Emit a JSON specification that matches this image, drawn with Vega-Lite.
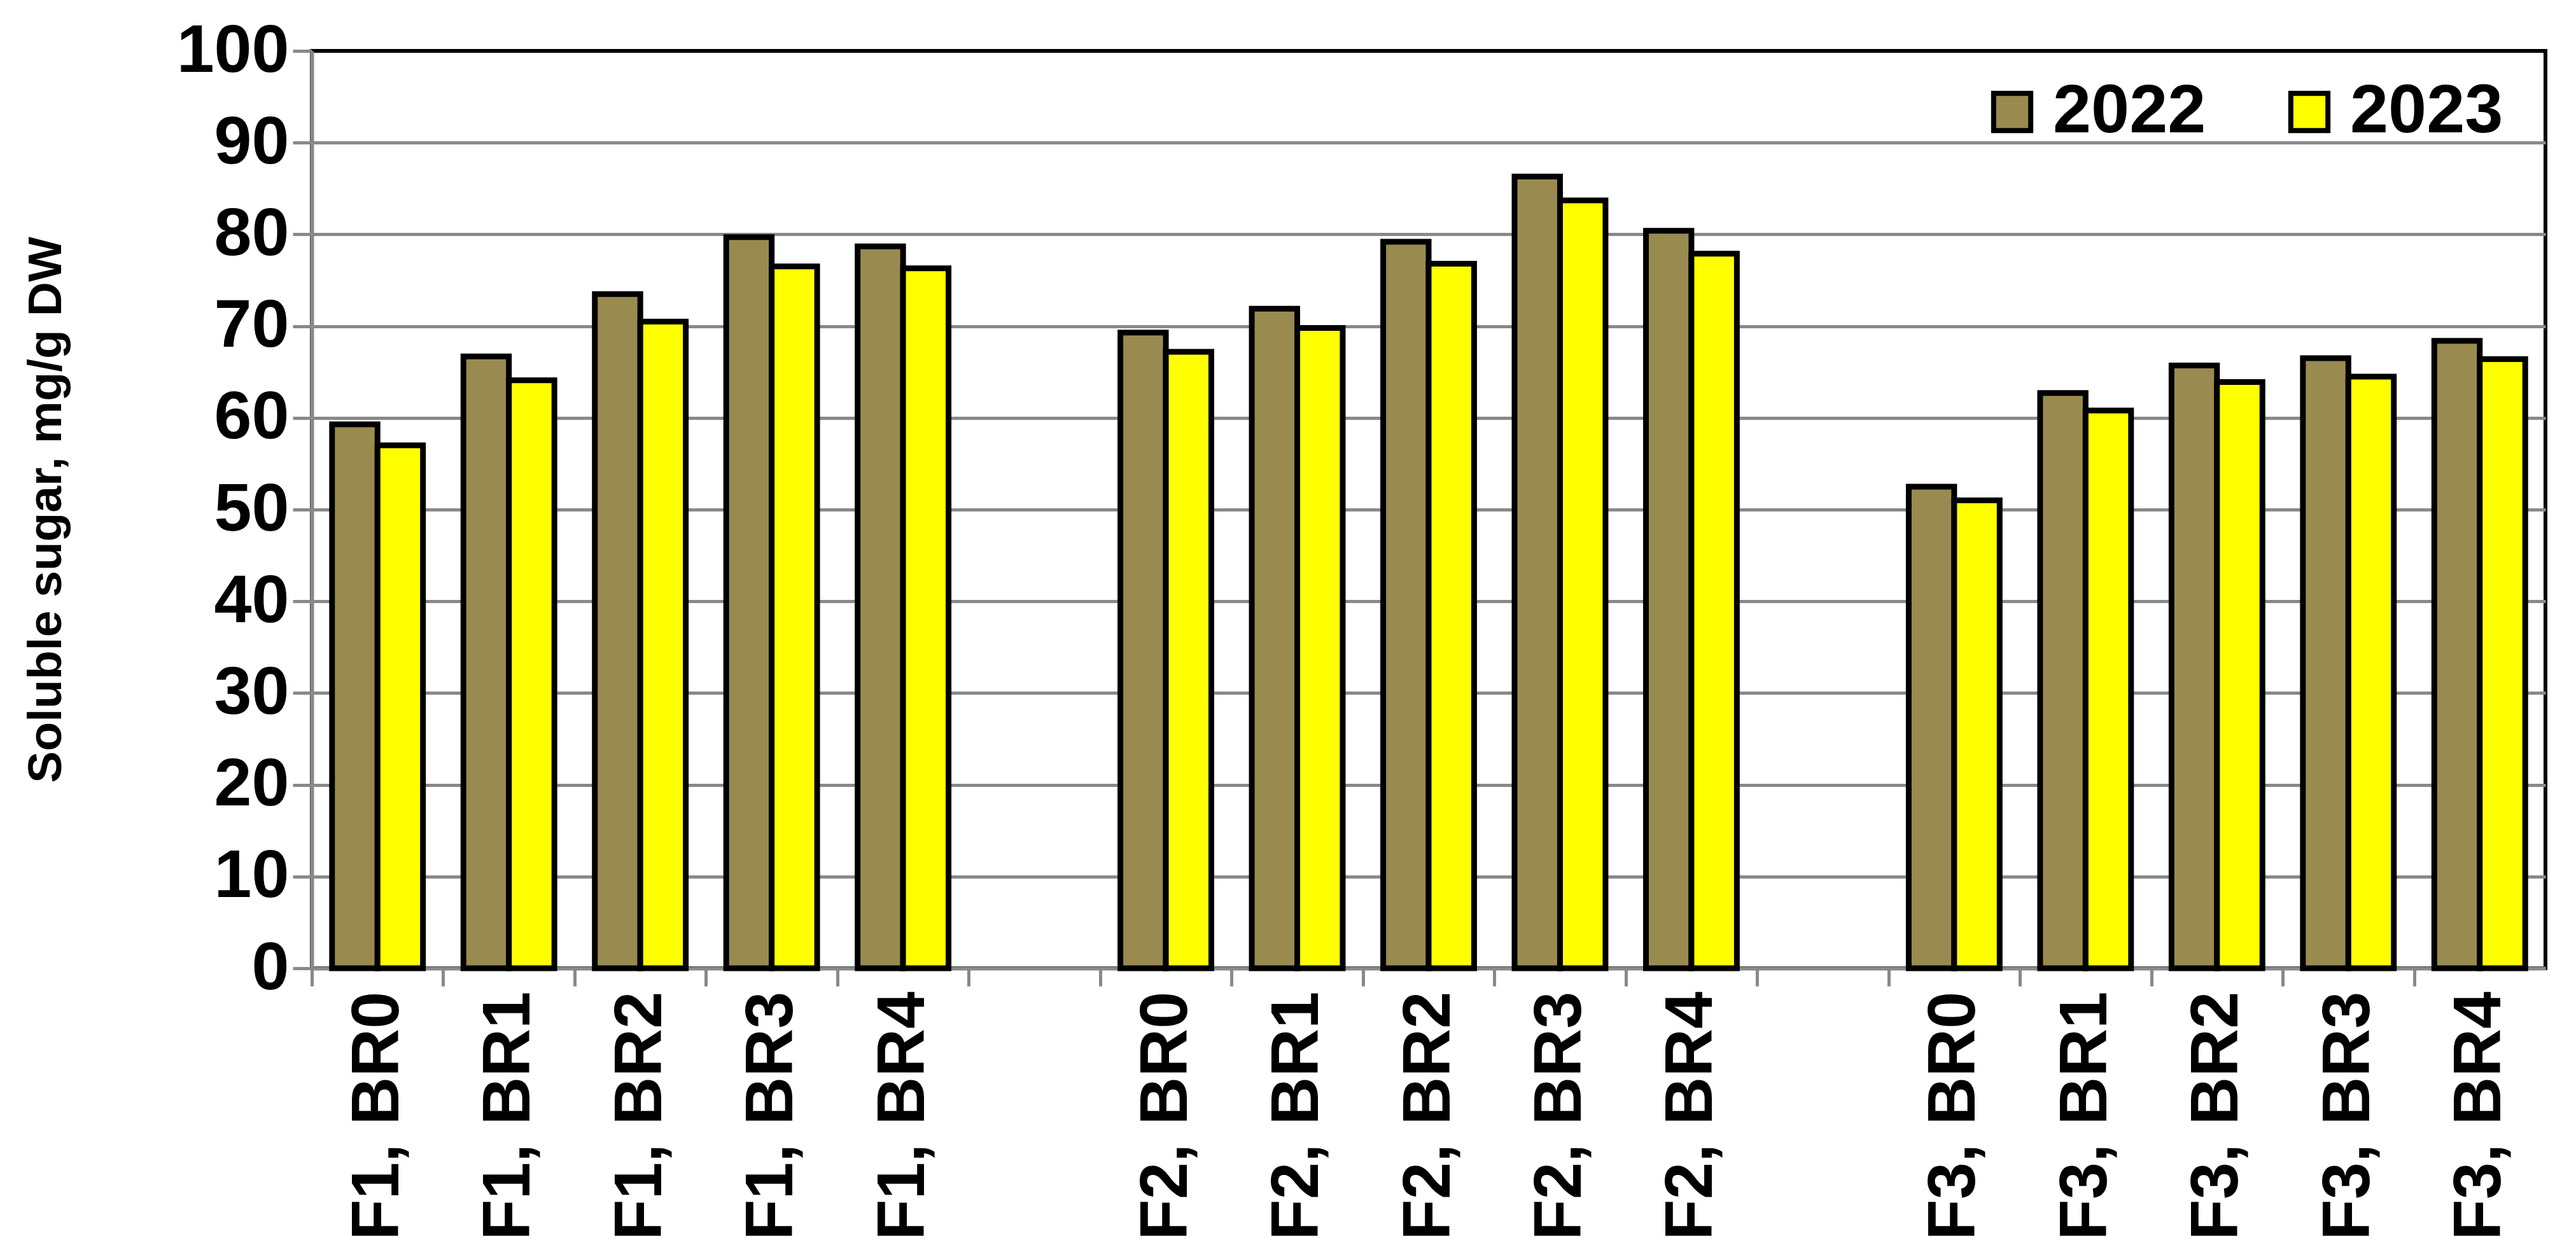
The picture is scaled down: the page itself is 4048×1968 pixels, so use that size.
{
  "$schema": "https://vega.github.io/schema/vega-lite/v6.json",
  "width": 3510,
  "height": 1442,
  "autosize": "none",
  "padding": {"left": 490, "top": 80, "right": 48, "bottom": 446},
  "background": "white",
  "config": {
    "view": {"stroke": "black", "strokeWidth": 6},
    "font": "Liberation Sans"
  },
  "data": {
    "values": [
      {"cat": "F1, BR0", "year": "2022", "value": 59.3},
      {"cat": "F1, BR0", "year": "2023", "value": 57.0},
      {"cat": "F1, BR1", "year": "2022", "value": 66.7},
      {"cat": "F1, BR1", "year": "2023", "value": 64.1},
      {"cat": "F1, BR2", "year": "2022", "value": 73.5},
      {"cat": "F1, BR2", "year": "2023", "value": 70.5},
      {"cat": "F1, BR3", "year": "2022", "value": 79.7},
      {"cat": "F1, BR3", "year": "2023", "value": 76.5},
      {"cat": "F1, BR4", "year": "2022", "value": 78.7},
      {"cat": "F1, BR4", "year": "2023", "value": 76.3},
      {"cat": "F2, BR0", "year": "2022", "value": 69.3},
      {"cat": "F2, BR0", "year": "2023", "value": 67.2},
      {"cat": "F2, BR1", "year": "2022", "value": 71.9},
      {"cat": "F2, BR1", "year": "2023", "value": 69.8},
      {"cat": "F2, BR2", "year": "2022", "value": 79.2},
      {"cat": "F2, BR2", "year": "2023", "value": 76.8},
      {"cat": "F2, BR3", "year": "2022", "value": 86.3},
      {"cat": "F2, BR3", "year": "2023", "value": 83.7},
      {"cat": "F2, BR4", "year": "2022", "value": 80.4},
      {"cat": "F2, BR4", "year": "2023", "value": 77.9},
      {"cat": "F3, BR0", "year": "2022", "value": 52.5},
      {"cat": "F3, BR0", "year": "2023", "value": 51.0},
      {"cat": "F3, BR1", "year": "2022", "value": 62.7},
      {"cat": "F3, BR1", "year": "2023", "value": 60.8},
      {"cat": "F3, BR2", "year": "2022", "value": 65.7},
      {"cat": "F3, BR2", "year": "2023", "value": 63.9},
      {"cat": "F3, BR3", "year": "2022", "value": 66.5},
      {"cat": "F3, BR3", "year": "2023", "value": 64.5},
      {"cat": "F3, BR4", "year": "2022", "value": 68.4},
      {"cat": "F3, BR4", "year": "2023", "value": 66.4}
    ]
  },
  "mark": {"type": "bar", "stroke": "black", "strokeWidth": 9, "strokeJoin": "miter"},
  "encoding": {
    "x": {
      "field": "cat",
      "type": "nominal",
      "scale": {
        "domain": ["F1, BR0", "F1, BR1", "F1, BR2", "F1, BR3", "F1, BR4", " ", "F2, BR0", "F2, BR1", "F2, BR2", "F2, BR3", "F2, BR4", "  ", "F3, BR0", "F3, BR1", "F3, BR2", "F3, BR3", "F3, BR4"],
        "paddingInner": 0,
        "paddingOuter": 0
      },
      "axis": {
        "title": null,
        "labelAngle": 270,
        "labelAlign": "right",
        "labelBaseline": "middle",
        "labelFont": "Liberation Sans",
        "labelFontWeight": "bold",
        "labelFontSize": 105,
        "labelColor": "black",
        "labelLimit": 0,
        "labelPadding": 8,
        "labelOffset": 103.24,
        "tickOffset": -103.24,
        "tickSize": 28,
        "tickWidth": 5,
        "tickColor": "#898989",
        "domainColor": "#898989",
        "domainWidth": 6,
        "grid": false
      }
    },
    "xOffset": {
      "field": "year",
      "type": "nominal",
      "scale": {"paddingInner": 0, "paddingOuter": 0.445}
    },
    "y": {
      "field": "value",
      "type": "quantitative",
      "scale": {"domain": [0, 100], "nice": false},
      "axis": {
        "title": "Soluble sugar, mg/g DW",
        "titleFont": "Liberation Sans",
        "titleFontWeight": "bold",
        "titleFontSize": 75,
        "titleColor": "black",
        "titleX": -418,
        "titleY": 721,
        "titleAngle": 270,
        "titleAlign": "center",
        "titleBaseline": "middle",
        "values": [0, 10, 20, 30, 40, 50, 60, 70, 80, 90, 100],
        "labelFont": "Liberation Sans",
        "labelFontWeight": "bold",
        "labelFontSize": 106,
        "labelColor": "black",
        "labelLimit": 0,
        "labelPadding": 6,
        "tickSize": 30,
        "tickWidth": 5,
        "tickColor": "#898989",
        "domainColor": "#898989",
        "domainWidth": 6,
        "grid": true,
        "gridColor": {"condition": {"test": "datum.value === 100", "value": "black"}, "value": "#898989"},
        "gridWidth": 5
      }
    },
    "color": {
      "field": "year",
      "type": "nominal",
      "scale": {"domain": ["2022", "2023"], "range": ["#998A50", "#FFFF00"]},
      "legend": {
        "title": null,
        "orient": "none",
        "legendX": 2618,
        "legendY": 42,
        "direction": "horizontal",
        "columns": 2,
        "columnPadding": 108,
        "symbolType": "square",
        "symbolSize": 3400,
        "symbolStrokeColor": "black",
        "symbolStrokeWidth": 8,
        "symbolOpacity": 1,
        "labelFont": "Liberation Sans",
        "labelFontWeight": "bold",
        "labelFontSize": 108,
        "labelColor": "black",
        "labelLimit": 0,
        "labelOffset": 10,
        "labelBaseline": "middle"
      }
    }
  }
}
